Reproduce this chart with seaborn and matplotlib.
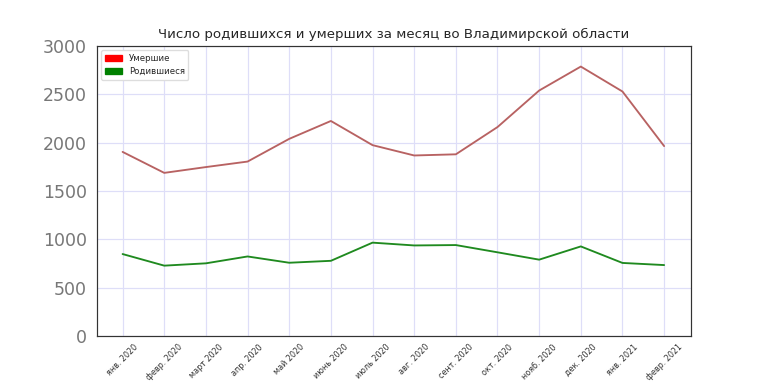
import pandas as pd
import matplotlib.pyplot as plt
import matplotlib.patches as mpatches
import seaborn as sns

# Месяцы и значения (оценка по графику)
months = ["янв. 2020", "февр. 2020", "март 2020", "апр. 2020", "май 2020", "июнь 2020",
          "июль 2020", "авг. 2020", "сент. 2020", "окт. 2020", "нояб. 2020", "дек. 2020",
          "янв. 2021", "февр. 2021"]
deaths = [1905, 1688, 1748, 1805, 2040, 2225, 1975, 1868, 1880, 2162, 2540, 2788, 2530, 1965]
births = [848, 728, 752, 823, 758, 778, 966, 937, 941, 866, 790, 927, 756, 734]

df = pd.DataFrame({"месяц": months, "Умершие": deaths, "Родившиеся": births})

sns.set_style("white")
fig, ax = plt.subplots(figsize=(8, 4), dpi=96)
fig.subplots_adjust(left=0.126, right=0.9, top=0.88, bottom=0.125)

sns.lineplot(data=df, x="месяц", y="Умершие", color="#b86262", linewidth=1.4, sort=False, ax=ax)
sns.lineplot(data=df, x="месяц", y="Родившиеся", color="#1f8a1f", linewidth=1.4, sort=False, ax=ax)

ax.set_ylim(0, 3000)
ax.set_xlim(-0.62, len(months) - 1 + 0.65)
ax.grid(True, color="#dedef8", linewidth=0.9)
ax.set_axisbelow(True)
for s in ax.spines.values():
    s.set_color("#333333")
    s.set_linewidth(0.9)

ax.set_xticks(range(len(months)))
ax.set_xticklabels(months, rotation=45, fontsize=6, color="#333333", ha="center")
ax.tick_params(axis="y", labelsize=13, labelcolor="#777777", length=4, color="#333333")
ax.tick_params(axis="x", length=3, pad=2, color="#333333")
ax.set_xlabel("")
ax.set_ylabel("")
ax.set_title("Число родившихся и умерших за месяц во Владимирской области", fontsize=10)

handles = [mpatches.Patch(color="red", label="Умершие"),
           mpatches.Patch(color="green", label="Родившиеся")]
ax.legend(handles=handles, loc="upper left", fontsize=6.5, framealpha=1, edgecolor="#dddddd")

plt.savefig("out.png", dpi=96)
